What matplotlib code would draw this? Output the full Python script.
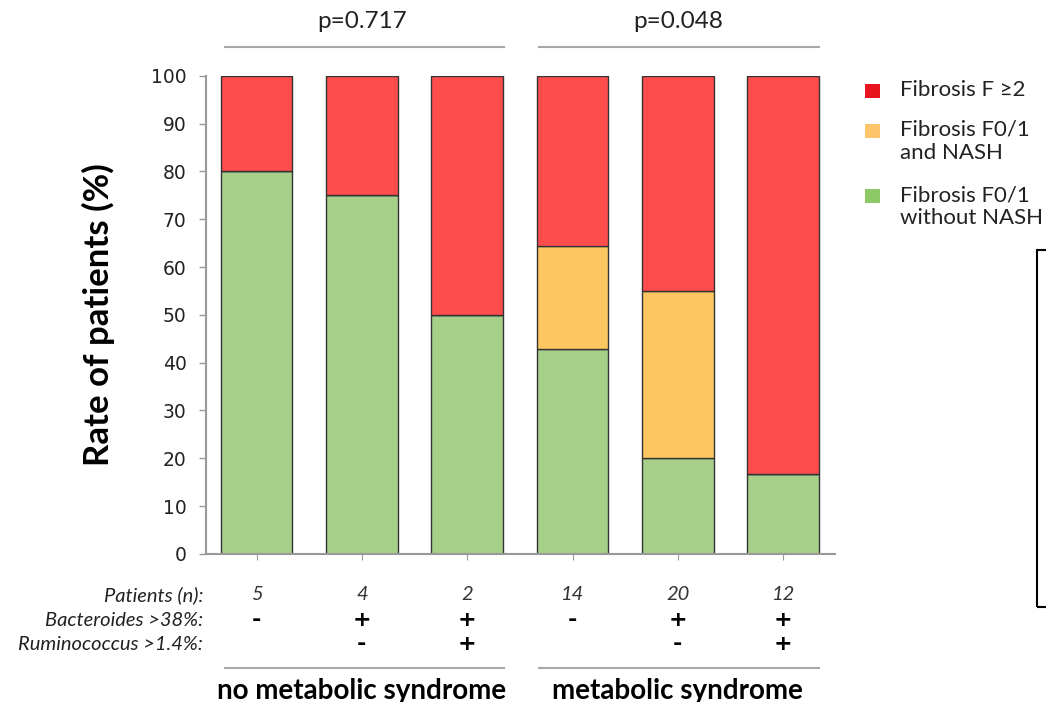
import matplotlib.pyplot as plt
import matplotlib.transforms as mtransforms
from matplotlib.patches import Rectangle
from matplotlib.lines import Line2D

# per-bar values (% of patients)
patients_n = [5, 4, 2, 14, 20, 12]
bacteroides = ['-', '+', '+', '-', '+', '+']
ruminococcus = ['', '-', '+', '', '-', '+']
no_nash = [80, 75, 50, 42.9, 20, 16.7]
nash = [0, 0, 0, 21.4, 35, 0]
fibrosis = [20, 25, 50, 35.7, 45, 83.3]
groups = ['no metabolic syndrome', 'metabolic syndrome']
pvalues = ['p=0.717', 'p=0.048']
legend_labels = ['Fibrosis F \u22652', 'Fibrosis F0/1\nand NASH',
                 'Fibrosis F0/1\nwithout NASH']

GREEN = '#a6cf89'
ORANGE = '#fcc660'
RED = '#ff4d4d'
GREY = '#a8a8a8'
FONT = 'Lato'

W, H = 1046, 702
fig = plt.figure(figsize=(W / 100, H / 100), dpi=100)
ax = fig.add_axes([0.197, 0.211, 0.601, 0.681])

x = list(range(len(patients_n)))
w = 0.68
ax.bar(x, no_nash, w, color=GREEN, edgecolor='#333333', linewidth=1)
ax.bar(x, nash, w, bottom=no_nash, color=ORANGE, edgecolor='#333333', linewidth=1)
base = [a + b for a, b in zip(no_nash, nash)]
ax.bar(x, fibrosis, w, bottom=base, color=RED, edgecolor='#333333', linewidth=1)

ax.set_xlim(-0.48, 5.49)
ax.set_ylim(0, 100)
ax.set_yticks(range(0, 101, 10))
ax.set_xticks(x)
ax.set_xticklabels([])
for s in ['top', 'right']:
    ax.spines[s].set_visible(False)
for s in ['left', 'bottom']:
    ax.spines[s].set_color('#999999')
    ax.spines[s].set_linewidth(1.5)
ax.tick_params(axis='y', length=5, width=1, color='#999999', pad=9,
               labelsize=13.5, labelcolor='#222222')
ax.tick_params(axis='x', length=4, width=0.8, color='#999999')

ax.set_ylabel('Rate of patients (%)', fontsize=25, fontweight='bold',
              family=FONT, labelpad=26)

# text rows under the axis
tr = mtransforms.blended_transform_factory(ax.transData, fig.transFigure)
row_y = [1 - 595 / H, 1 - 620 / H, 1 - 644 / H]
row_labels = ['Patients (n):', 'Bacteroides >38%:', 'Ruminococcus >1.4%:']
for yy, lab in zip(row_y, row_labels):
    fig.text(203 / W, yy, lab, ha='right', va='center', style='italic',
             fontsize=14.5, family=FONT, color='#222222')
for i in x:
    ax.text(i, row_y[0], str(patients_n[i]), transform=tr, ha='center',
            va='center', style='italic', fontsize=14.5, family=FONT,
            color='#333333')
    ax.text(i, row_y[1], bacteroides[i], transform=tr, ha='center',
            va='center', fontsize=16, fontweight='bold', family='DejaVu Sans')
    ax.text(i, row_y[2], ruminococcus[i], transform=tr, ha='center',
            va='center', fontsize=16, fontweight='bold', family='DejaVu Sans')

# group brackets and labels
spans = [(-0.3, 2.35), (2.68, 5.34)]
for (a, b), g, p, c in zip(spans, groups, pvalues, [1, 4]):
    fig.add_artist(Line2D([a, b], [1 - 668 / H] * 2, transform=tr,
                          color=GREY, lw=1.5))
    fig.add_artist(Line2D([a, b], [1 - 47 / H] * 2, transform=tr,
                          color=GREY, lw=1.5))
    ax.text(c, 1 - 691 / H, g, transform=tr, ha='center', va='center',
            fontsize=20, fontweight='bold', family=FONT)
    ax.text(c, 1 - 21 / H, p, transform=tr, ha='center', va='center',
            fontsize=17.5, family=FONT, color='#222222')

# legend, drawn by hand
legend_colors = ['#e8141e', '#ffc56a', '#8cc864']
legend_y = [91, 131, 196]
for col, lab, yy in zip(legend_colors, legend_labels, legend_y):
    fig.add_artist(Rectangle((865 / W, 1 - (yy + 7) / H), 15 / W, 14 / H,
                             transform=fig.transFigure, facecolor=col,
                             edgecolor='none'))
    fig.text(900 / W, 1 - (yy - 11) / H, lab, ha='left', va='top',
             fontsize=16, family=FONT, color='#222222', linespacing=1.2)

# empty frame on the right edge
fig.add_artist(Rectangle((1037 / W, 1 - 607 / H), 0.05, 357 / H,
                         transform=fig.transFigure, fill=False,
                         edgecolor='black', lw=1.5))

fig.savefig('out.png', dpi=100)
